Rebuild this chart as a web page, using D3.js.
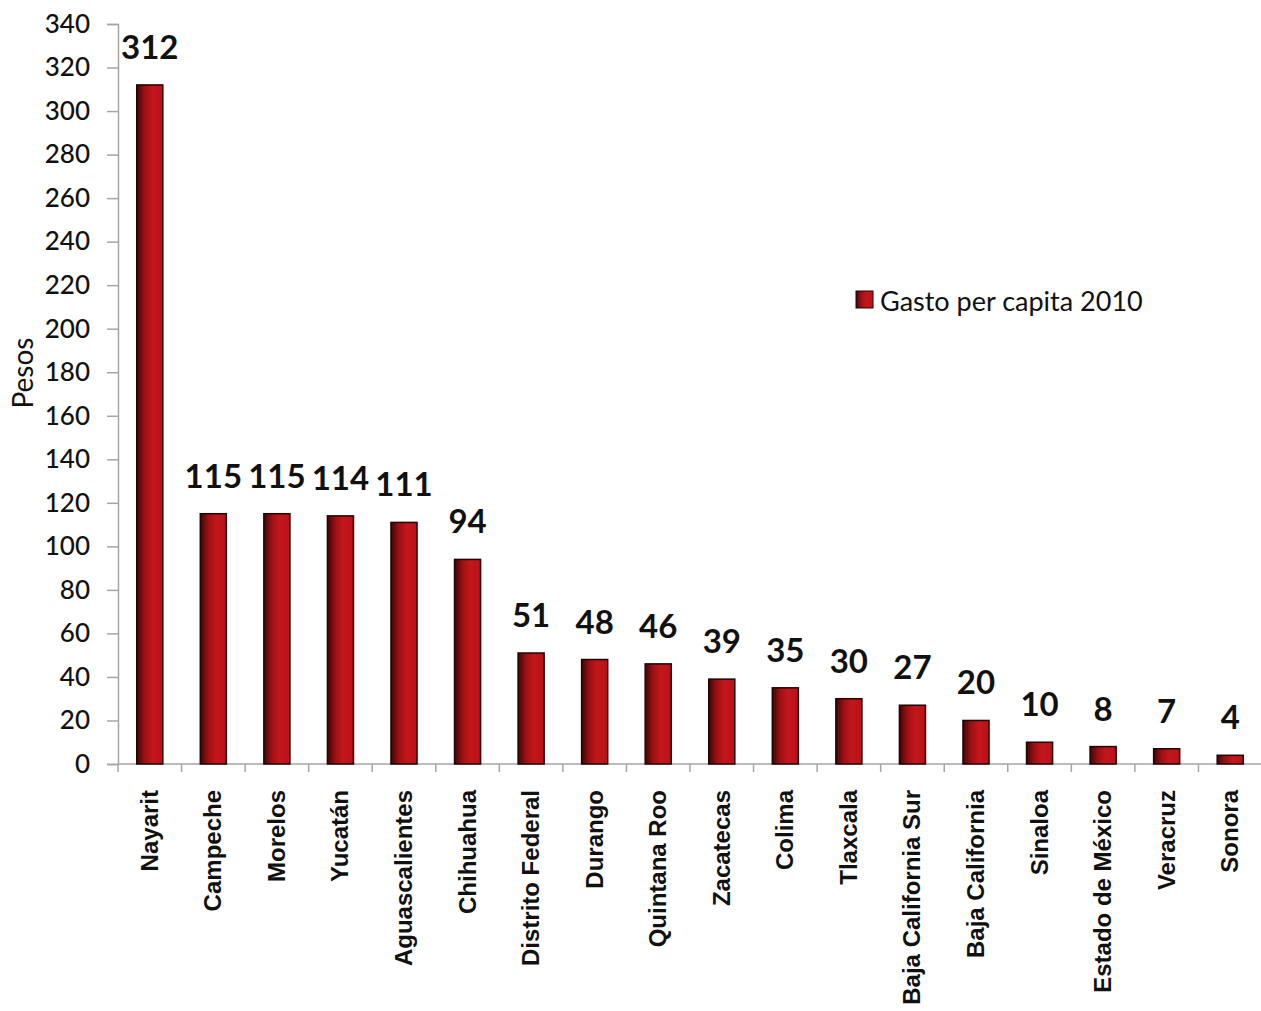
<!DOCTYPE html>
<html>
<head>
<meta charset="utf-8">
<script src="https://cdn.jsdelivr.net/npm/d3@7"></script>
<style>
  html, body { margin: 0; padding: 0; background: #fff; }
  #chart { width: 1261px; height: 1011px; }
</style>
</head>
<body>
<div id="chart"></div>
<script>
// Chart data
const states = ["Nayarit", "Campeche", "Morelos", "Yucatán", "Aguascalientes", "Chihuahua",
  "Distrito Federal", "Durango", "Quintana Roo", "Zacatecas", "Colima", "Tlaxcala",
  "Baja California Sur", "Baja California", "Sinaloa", "Estado de México", "Veracruz", "Sonora"];
const gasto2010 = [312, 115, 115, 114, 111, 94, 51, 48, 46, 39, 35, 30, 27, 20, 10, 8, 7, 4];
const yTicks = d3.range(0, 341, 20);
const seriesName = "Gasto per capita 2010";
const yTitle = "Pesos";

const width = 1261, height = 1011;
const margin = { top: 24, right: 0, bottom: 247, left: 118 };

const svg = d3.select("#chart").append("svg")
  .attr("width", width)
  .attr("height", height);

// Bar gradient (dark left edge, bright red body)
const defs = svg.append("defs");
const grad = defs.append("linearGradient")
  .attr("id", "barGrad")
  .attr("x1", "0%").attr("x2", "100%").attr("y1", "0%").attr("y2", "0%");
grad.append("stop").attr("offset", "0%").attr("stop-color", "#3d0606");
grad.append("stop").attr("offset", "30%").attr("stop-color", "#9c1014");
grad.append("stop").attr("offset", "60%").attr("stop-color", "#c4161b");
grad.append("stop").attr("offset", "100%").attr("stop-color", "#b61318");

const x = d3.scaleBand()
  .domain(states)
  .range([margin.left, width + 1])
  .paddingInner(0.59)
  .paddingOuter(0.295);

const y = d3.scaleLinear()
  .domain([0, 340])
  .range([height - margin.bottom, margin.top]);

const axisColor = "#a6a6a6";

// Y axis
const yAxis = svg.append("g")
  .attr("transform", `translate(${margin.left},0)`)
  .call(d3.axisLeft(y).tickValues(yTicks).tickSize(11).tickPadding(17));
yAxis.select(".domain").attr("stroke", axisColor).attr("stroke-width", 1.5);
yAxis.selectAll(".tick line").attr("stroke", axisColor).attr("stroke-width", 1.5);
yAxis.selectAll(".tick text")
  .attr("fill", "#111")
  .style("font-family", "Lato, sans-serif")
  .style("font-weight", "500")
  .style("font-size", "26px");

// X axis baseline with ticks at category boundaries
const y0 = y(0);
svg.append("line")
  .attr("x1", margin.left).attr("x2", width)
  .attr("y1", y0).attr("y2", y0)
  .attr("stroke", axisColor).attr("stroke-width", 1.5);
svg.append("g")
  .selectAll("line")
  .data(d3.range(states.length + 1))
  .join("line")
  .attr("x1", i => margin.left + i * x.step())
  .attr("x2", i => margin.left + i * x.step())
  .attr("y1", y0).attr("y2", y0 + 8)
  .attr("stroke", axisColor).attr("stroke-width", 1.5);

// Category labels (rotated)
svg.append("g")
  .selectAll("text")
  .data(states)
  .join("text")
  .attr("transform", d => `translate(${x(d) + x.bandwidth() / 2 + 8},${y0 + 26}) rotate(-90)`)
  .attr("text-anchor", "end")
  .attr("fill", "#111")
  .style("font-family", "'Liberation Sans', Arial, sans-serif")
  .style("font-weight", "bold")
  .style("font-size", "24px")
  .text(d => d);

// Bars
svg.append("g")
  .selectAll("rect")
  .data(gasto2010)
  .join("rect")
  .attr("x", (d, i) => x(states[i]))
  .attr("y", d => y(d))
  .attr("width", x.bandwidth())
  .attr("height", d => y0 - y(d))
  .attr("fill", "url(#barGrad)")
  .attr("stroke", "#220404")
  .attr("stroke-width", 1.5);

// Value labels
svg.append("g")
  .selectAll("text")
  .data(gasto2010)
  .join("text")
  .attr("x", (d, i) => x(states[i]) + x.bandwidth() / 2)
  .attr("y", d => y(d) - 26)
  .attr("text-anchor", "middle")
  .attr("fill", "#111")
  .style("font-family", "Lato, sans-serif")
  .style("font-weight", "bold")
  .style("font-size", "33px")
  .text(d => d);

// Y axis title
svg.append("text")
  .attr("transform", `translate(33,${373}) rotate(-90)`)
  .attr("text-anchor", "middle")
  .attr("fill", "#111")
  .style("font-family", "Lato, sans-serif")
  .style("font-size", "28px")
  .text(yTitle);

// Legend
const legend = svg.append("g").attr("transform", "translate(856,291)");
legend.append("rect")
  .attr("width", 17).attr("height", 17)
  .attr("fill", "url(#barGrad)")
  .attr("stroke", "#220404").attr("stroke-width", 1);
legend.append("text")
  .attr("x", 24).attr("y", 20)
  .attr("fill", "#111")
  .style("font-family", "Lato, sans-serif")
  .style("font-size", "27px")
  .text(seriesName);
</script>
</body>
</html>
